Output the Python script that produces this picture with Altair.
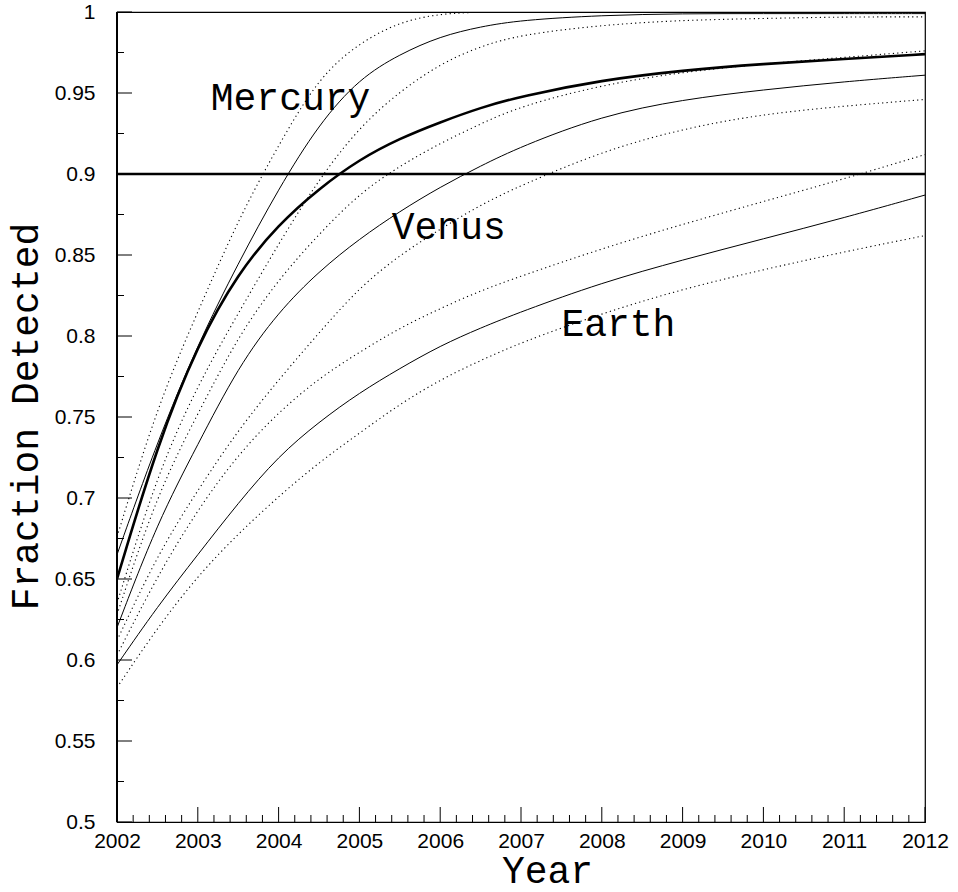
import altair as alt
import pandas as pd

# ---------------- data ----------------
years = [2002, 2002.5, 2003, 2003.5, 2004, 2004.5, 2005, 2005.5, 2006, 2006.5,
         2007, 2008, 2009, 2010, 2011, 2012]

mercury_hi = [0.676, 0.757, 0.815, 0.872, 0.918, 0.960, 0.981, 0.994, 0.999, 1.000,
              1.000, 1.000, 1.000, 1.000, 1.000, 1.000]
mercury_mid = [0.665, 0.735, 0.795, 0.845, 0.891, 0.931, 0.959, 0.974, 0.985, 0.991,
               0.995, 0.998, 0.999, 0.999, 0.999, 0.999]
mercury_lo = [0.635, 0.715, 0.770, 0.814, 0.857, 0.897, 0.929, 0.951, 0.968, 0.979,
              0.986, 0.992, 0.995, 0.996, 0.997, 0.997]
venus_hi = [0.628, 0.703, 0.752, 0.800, 0.835, 0.863, 0.888, 0.905, 0.919, 0.931,
            0.942, 0.955, 0.963, 0.968, 0.972, 0.976]
venus_mid = [0.620, 0.685, 0.733, 0.781, 0.815, 0.840, 0.860, 0.877, 0.892, 0.905,
             0.917, 0.936, 0.946, 0.952, 0.957, 0.961]
venus_lo = [0.612, 0.665, 0.705, 0.742, 0.773, 0.802, 0.830, 0.850, 0.866, 0.881,
            0.893, 0.914, 0.928, 0.937, 0.942, 0.946]
earth_hi = [0.603, 0.652, 0.693, 0.727, 0.753, 0.774, 0.790, 0.805, 0.817, 0.828,
            0.837, 0.854, 0.869, 0.883, 0.897, 0.912]
earth_mid = [0.597, 0.633, 0.665, 0.697, 0.726, 0.747, 0.765, 0.780, 0.794, 0.805,
             0.815, 0.833, 0.847, 0.860, 0.873, 0.887]
earth_lo = [0.583, 0.620, 0.652, 0.678, 0.701, 0.722, 0.740, 0.758, 0.773, 0.785,
            0.796, 0.814, 0.829, 0.841, 0.852, 0.862]
combined = [0.650, 0.733, 0.795, 0.839, 0.869, 0.891, 0.909, 0.922, 0.932, 0.941,
            0.948, 0.958, 0.964, 0.968, 0.971, 0.974]

threshold = 0.9

label_names = ["Mercury", "Venus", "Earth"]
label_years = [2003.16, 2005.40, 2007.50]
label_values = [0.9395, 0.8597, 0.8002]

x_major = list(range(2002, 2013))
x_minor = [round(2002 + 0.2 * i, 1) for i in range(51) if i % 5 != 0]
y_major = [round(0.5 + 0.05 * i, 2) for i in range(11)]
y_minor = [round(0.525 + 0.05 * i, 3) for i in range(10)]

# ---------------- tables ----------------
curves = [
    ("mercury_hi", "dot", mercury_hi), ("mercury_mid", "solid", mercury_mid),
    ("mercury_lo", "dot", mercury_lo), ("venus_hi", "dot", venus_hi),
    ("venus_mid", "solid", venus_mid), ("venus_lo", "dot", venus_lo),
    ("earth_hi", "dot", earth_hi), ("earth_mid", "solid", earth_mid),
    ("earth_lo", "dot", earth_lo), ("combined", "thick", combined),
]
rows = []
for name, style, vals in curves:
    for yr, v in zip(years, vals):
        rows.append({"year": yr, "value": v, "curve": name, "style": style})
df = pd.DataFrame(rows)

labels_df = pd.DataFrame({"year": label_years, "value": label_values, "name": label_names})
xmaj_df = pd.DataFrame({"year": x_major})
xmin_df = pd.DataFrame({"year": x_minor})
ymaj_df = pd.DataFrame({"value": y_major})
ymin_df = pd.DataFrame({"value": y_minor})
thr_df = pd.DataFrame({"value": [threshold]})

# ---------------- scales & axes ----------------
W, H = 808, 810
TITLE_FONT = "Courier New, Courier, Liberation Mono, monospace"
LABEL_FONT = "Liberation Sans, Arial, Helvetica, sans-serif"

xscale = alt.Scale(domain=[2002, 2012], nice=False, zero=False)
yscale = alt.Scale(domain=[0.5, 1.0], nice=False, zero=False)

xaxis = alt.Axis(values=x_major, format="d", title="Year", grid=False, ticks=False,
                 domain=False, labelFont=LABEL_FONT, labelFontSize=21,
                 labelColor="black", labelPadding=8, labelFlush=False,
                 labelOverlap=False, titleFont=TITLE_FONT, titleFontSize=38,
                 titleFontWeight="normal", titleColor="black", titleX=430,
                 titleY=60, titleAlign="center", titleBaseline="alphabetic")
yaxis = alt.Axis(values=y_major, format="~g", title="Fraction Detected", grid=False,
                 ticks=False, domain=False, labelFont=LABEL_FONT, labelFontSize=21,
                 labelColor="black", labelPadding=22, labelFlush=False,
                 labelOverlap=False, labelBaseline="middle",
                 titleFont=TITLE_FONT, titleFontSize=38, titleFontWeight="normal",
                 titleColor="black", titleX=-80, titleY=404, titleAlign="center",
                 titleBaseline="alphabetic", titleAngle=270)

X = alt.X("year:Q", scale=xscale, axis=xaxis)
Y = alt.Y("value:Q", scale=yscale, axis=yaxis)

base = alt.Chart(df)

dotted = base.transform_filter(alt.datum.style == "dot").mark_line(
    color="black", strokeWidth=1.1, strokeDash=[1.2, 3.2], interpolate="basis",
    clip=True).encode(x=X, y=Y, detail="curve:N")
solid = base.transform_filter(alt.datum.style == "solid").mark_line(
    color="black", strokeWidth=1, interpolate="basis", clip=True
).encode(x=X, y=Y, detail="curve:N")
thick = base.transform_filter(alt.datum.style == "thick").mark_line(
    color="black", strokeWidth=2.6, interpolate="basis", clip=True
).encode(x=X, y=Y, detail="curve:N")

thr = alt.Chart(thr_df).mark_rule(color="black", strokeWidth=2.6).encode(
    y=Y, x=alt.value(0), x2=alt.value(W))

texts = alt.Chart(labels_df).mark_text(
    font=TITLE_FONT, fontSize=38, align="left", baseline="alphabetic", color="black"
).encode(x=X, y=Y, text="name:N")

ytick_maj = alt.Chart(ymaj_df).mark_rule(color="black", strokeWidth=1).encode(
    y=Y, x=alt.value(0), x2=alt.value(15))
ytick_min = alt.Chart(ymin_df).mark_rule(color="black", strokeWidth=1).encode(
    y=Y, x=alt.value(0), x2=alt.value(7))
xtick_maj = alt.Chart(xmaj_df).mark_rule(color="black", strokeWidth=1).encode(
    x=X, y=alt.value(H), y2=alt.value(H - 15))
xtick_min = alt.Chart(xmin_df).mark_rule(color="black", strokeWidth=1).encode(
    x=X, y=alt.value(H), y2=alt.value(H - 7))

# left axis line slightly heavier, as in the reference
left_line = alt.Chart(thr_df).mark_rule(color="black", strokeWidth=2).encode(
    x=alt.value(0), y=alt.value(0), y2=alt.value(H))

chart = alt.layer(
    dotted, solid, thick, thr, texts, ytick_maj, ytick_min, xtick_maj, xtick_min,
    left_line
).properties(
    width=W, height=H,
    autosize=alt.AutoSizeParams(type="none"),
    padding={"left": 117, "top": 12, "right": 33, "bottom": 70},
    background="white",
).configure_view(stroke="black", strokeWidth=1.2)

chart.save("out.html", embed_options={"renderer": "svg", "actions": False})
